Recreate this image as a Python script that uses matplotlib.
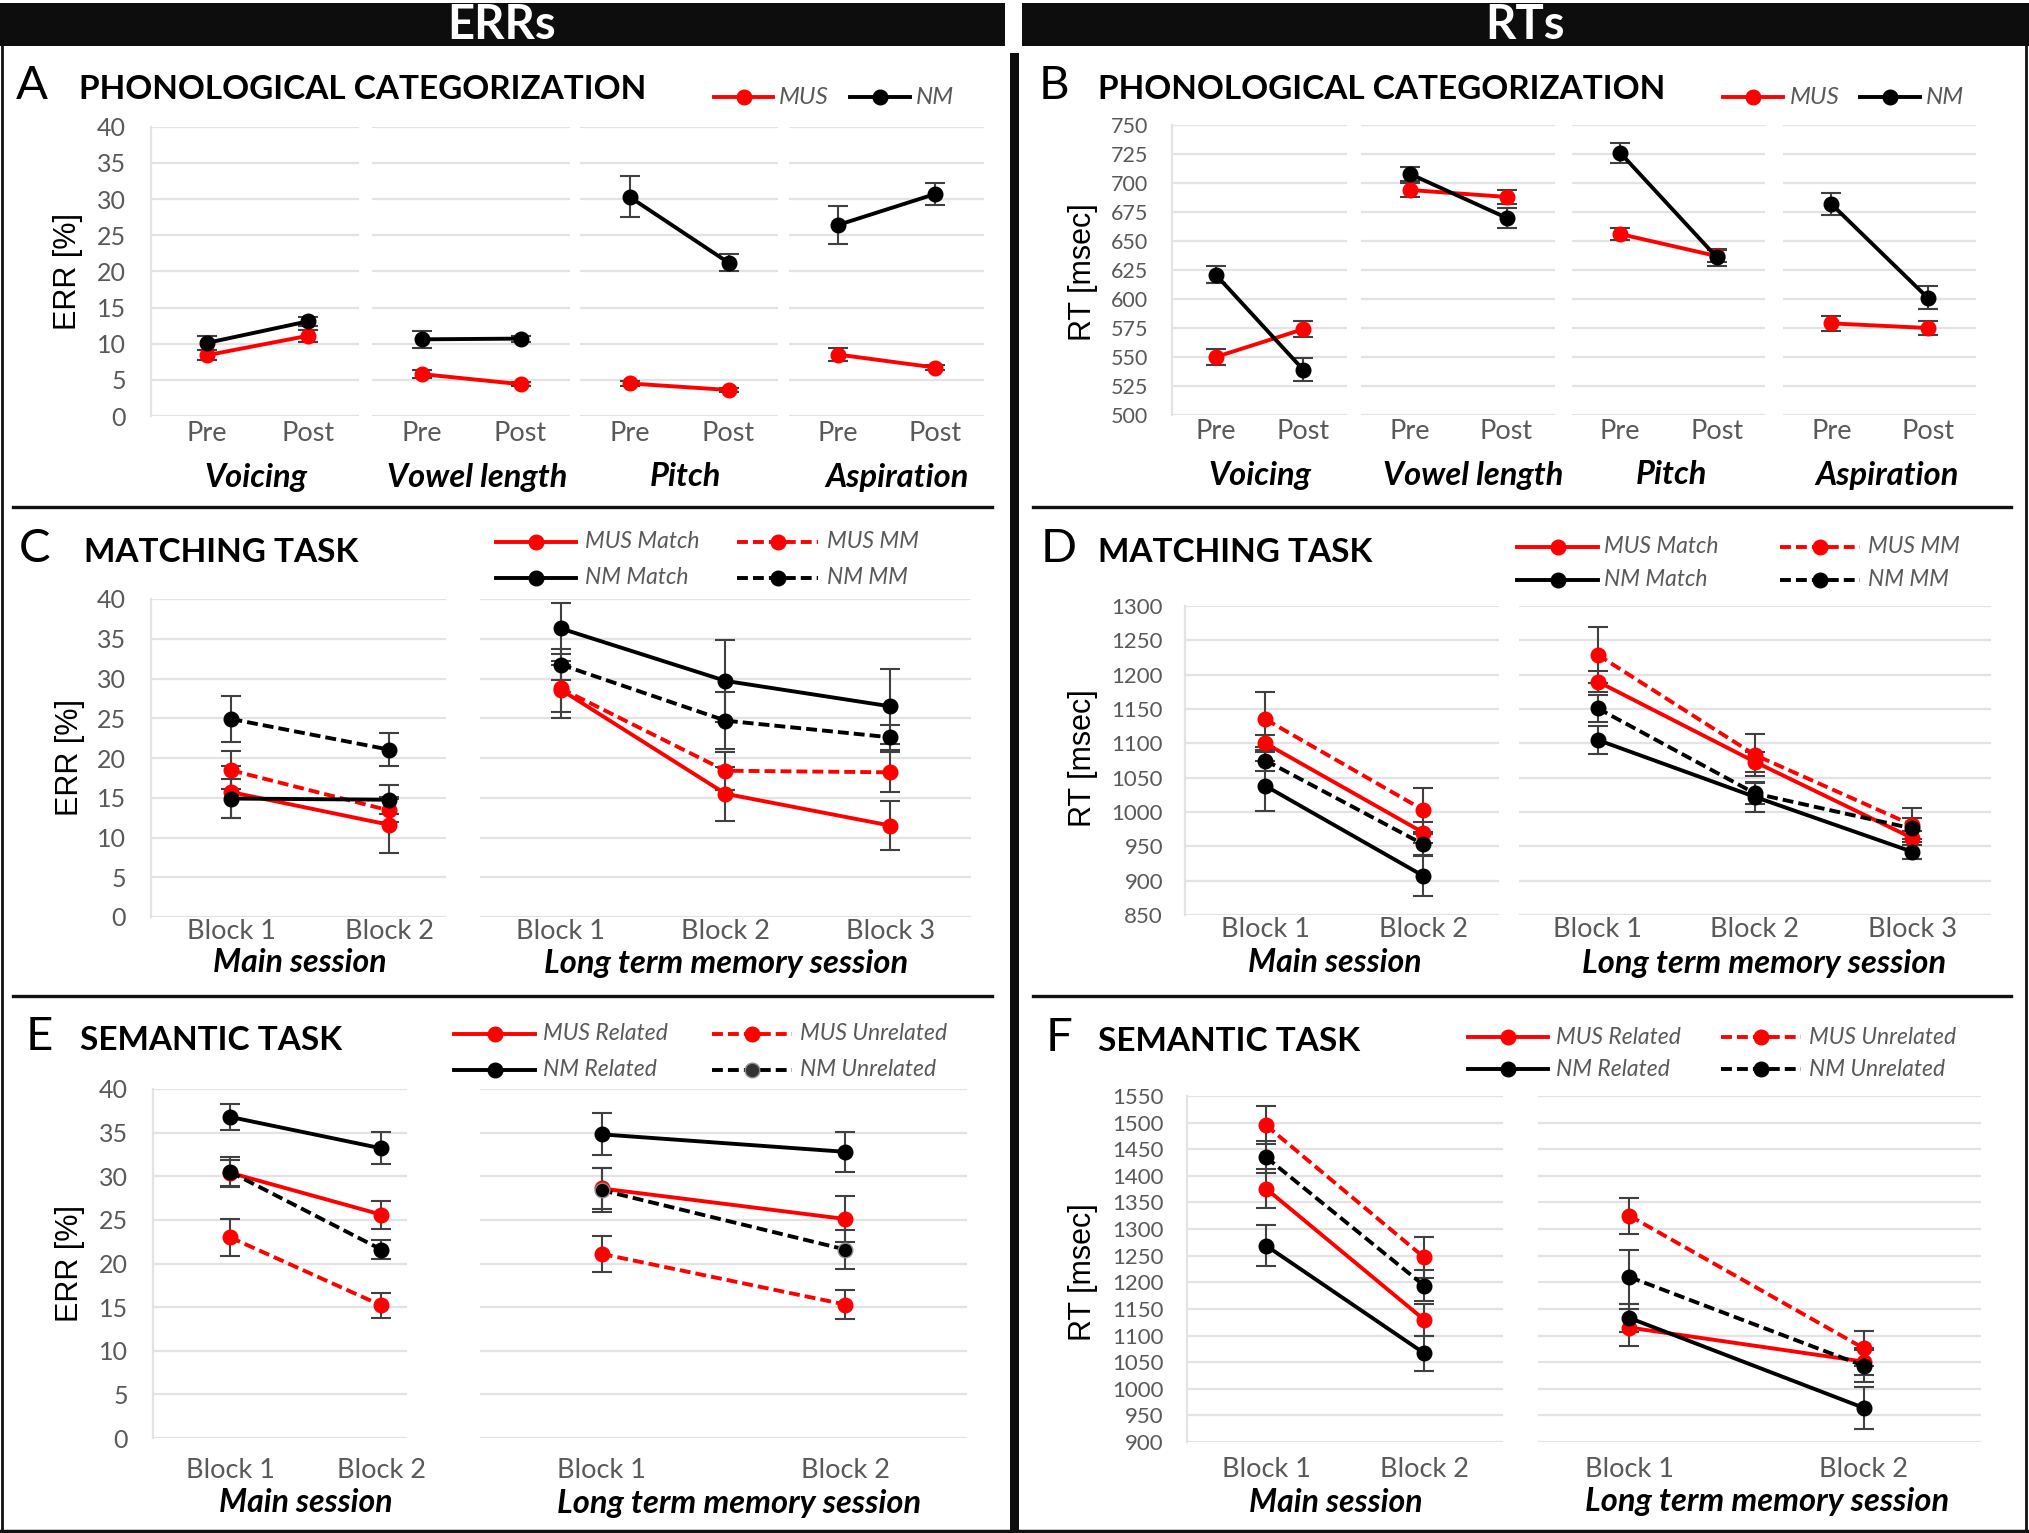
import numpy as np
import matplotlib
matplotlib.use("Agg")
import matplotlib.pyplot as plt
from matplotlib.patches import Rectangle
from matplotlib.lines import Line2D

# ---------------- DATA ----------------
phon_groups = ['Voicing', 'Vowel length', 'Pitch', 'Aspiration']
phon_ticks = ['Pre', 'Post']
# Panel A: ERR [%]  (per group: [Pre, Post])
A_mus = [[8.4, 11.1], [5.8, 4.4], [4.5, 3.6], [8.5, 6.7]]
A_mus_err = [[0.7, 0.8], [0.6, 0.3], [0.3, 0.3], [0.95, 0.4]]
A_nm = [[10.1, 13.1], [10.6, 10.7], [30.3, 21.2], [26.4, 30.7]]
A_nm_err = [[1.0, 0.6], [1.15, 0.4], [2.85, 1.2], [2.6, 1.5]]
# Panel B: RT [msec]
B_mus = [[550, 574], [694, 688], [656, 637], [579, 575]]
B_mus_err = [[7, 7], [6, 6], [5, 5], [6.5, 6]]
B_nm = [[621, 539], [708, 670], [726, 636], [682, 601]]
B_nm_err = [[7.5, 9.8], [6, 8.6], [8.6, 7.5], [9.3, 10]]

session_labels = ['Main session', 'Long term memory session']
main_ticks = ['Block 1', 'Block 2']
ltm3_ticks = ['Block 1', 'Block 2', 'Block 3']
ltm2_ticks = ['Block 1', 'Block 2']

match_series = ['MUS Match', 'MUS MM', 'NM Match', 'NM MM']
# Panel C: ERR [%]
C_main = {'MUS Match': [15.7, 11.6], 'MUS MM': [18.45, 13.4], 'NM Match': [14.9, 14.75], 'NM MM': [24.9, 21.05]}
C_main_err = {'MUS Match': [3.3, 3.5], 'MUS MM': [2.4, 1.5], 'NM Match': [2.4, 1.8], 'NM MM': [2.9, 2.05]}
C_ltm = {'MUS Match': [28.6, 15.5, 11.5], 'MUS MM': [28.75, 18.4, 18.2], 'NM Match': [36.3, 29.7, 26.5], 'NM MM': [31.75, 24.7, 22.6]}
C_ltm_err = {'MUS Match': [3.6, 3.4, 3.1], 'MUS MM': [3.0, 2.4, 2.5], 'NM Match': [3.25, 5.2, 4.7], 'NM MM': [1.9, 3.6, 1.6]}
# Panel D: RT [msec]
D_main = {'MUS Match': [1100, 970], 'MUS MM': [1135, 1003], 'NM Match': [1038, 907], 'NM MM': [1075, 953]}
D_main_err = {'MUS Match': [12, 15], 'MUS MM': [40, 32], 'NM Match': [37, 29], 'NM MM': [15, 15]}
D_ltm = {'MUS Match': [1190, 1073, 962], 'MUS MM': [1229, 1083, 981], 'NM Match': [1105, 1022, 942], 'NM MM': [1151, 1027, 976]}
D_ltm_err = {'MUS Match': [15, 15, 10], 'MUS MM': [41, 31, 25], 'NM Match': [20, 22, 10], 'NM MM': [20, 15, 15]}

sem_series = ['MUS Related', 'MUS Unrelated', 'NM Related', 'NM Unrelated']
# Panel E: ERR [%]
E_main = {'MUS Related': [30.4, 25.6], 'MUS Unrelated': [23.0, 15.2], 'NM Related': [36.8, 33.2], 'NM Unrelated': [30.5, 21.6]}
E_main_err = {'MUS Related': [1.5, 1.6], 'MUS Unrelated': [2.15, 1.4], 'NM Related': [1.5, 1.85], 'NM Unrelated': [1.75, 1.1]}
E_ltm = {'MUS Related': [28.6, 25.1], 'MUS Unrelated': [21.1, 15.3], 'NM Related': [34.8, 32.8], 'NM Unrelated': [28.4, 21.6]}
E_ltm_err = {'MUS Related': [2.3, 2.6], 'MUS Unrelated': [2.1, 1.7], 'NM Related': [2.4, 2.3], 'NM Unrelated': [2.5, 2.2]}
# Panel F: RT [msec]
F_main = {'MUS Related': [1376, 1130], 'MUS Unrelated': [1495, 1247], 'NM Related': [1269, 1067], 'NM Unrelated': [1435, 1194]}
F_main_err = {'MUS Related': [37, 30], 'MUS Unrelated': [36, 38], 'NM Related': [39, 33], 'NM Unrelated': [30, 30]}
F_ltm = {'MUS Related': [1115, 1051], 'MUS Unrelated': [1325, 1076], 'NM Related': [1133, 964], 'NM Unrelated': [1210, 1043]}
F_ltm_err = {'MUS Related': [35, 25], 'MUS Unrelated': [34, 33], 'NM Related': [27, 39], 'NM Unrelated': [51, 30]}

# ---------------- STYLE ----------------
W, H, DPI = 2029, 1533, 100
FONT = 'Lato'
RED, BLK = '#ff0000', '#000000'
GRID, TXT, EBC = '#e3e3e3', '#595959', '#404040'
PX = 72.0 / DPI  # points per pixel
LW, MS, DASH = 2.8, 10.5, (0, (2.8, 1.3))

fig = plt.figure(figsize=(W / DPI, H / DPI), dpi=DPI)
fig.patch.set_facecolor('white')


def fx(x):
    return x / W


def fy(y):
    return 1 - y / H


def series_style(name):
    color = RED if name.startswith('MUS') else BLK
    dashed = name.endswith('MM') or name.endswith('Unrelated')
    return color, dashed


def add_ax(x0, x1, y0, y1):
    return fig.add_axes([fx(x0), fy(y1), (x1 - x0) / W, (y1 - y0) / H])


def style_ax(ax, ylim, step, show_y, xlim, ticklabels, tick_fs, tick_center, ybottom, ypad, yfs):
    ax.set_ylim(*ylim)
    ax.set_yticks(np.arange(ylim[0], ylim[1] + step / 2, step))
    ax.set_xlim(*xlim)
    ax.set_xticks(range(len(ticklabels)))
    ax.set_xticklabels(ticklabels, fontsize=tick_fs, color=TXT, family=FONT)
    size_px = tick_fs / PX
    xpad = (tick_center - ybottom - 0.37 * size_px) * PX
    ax.tick_params(axis='both', length=0)
    ax.tick_params(axis='x', pad=xpad)
    ax.tick_params(axis='y', pad=ypad * PX, labelsize=yfs, labelcolor=TXT)
    for lab in ax.get_yticklabels():
        lab.set_family(FONT)
    if not show_y:
        ax.tick_params(axis='y', labelleft=False)
    ax.grid(axis='y', color=GRID, lw=1.6)
    ax.set_axisbelow(True)
    for s in ax.spines.values():
        s.set_visible(False)
    if show_y:
        ax.spines['left'].set_visible(True)
        ax.spines['left'].set_color(GRID)
        ax.spines['left'].set_linewidth(1.6)
    ax.set_facecolor('none')


def draw(ax, y, err, color, dashed, mec=None):
    ls = DASH if dashed else '-'
    x = np.arange(len(y))
    ax.errorbar(x, y, yerr=err, color=color, ls=ls, lw=LW, marker='o', ms=MS,
                mfc=color, mec=mec if mec else color, ecolor=EBC, elinewidth=1.5,
                capsize=7, capthick=1.5, zorder=3)


def legend_entry(x0, x1, xt, y, label, color, dashed, fs, mfc=None, mec=None):
    ls = DASH if dashed else '-'
    xm = (x0 + x1) / 2
    ln = Line2D([fx(x0), fx(xm), fx(x1)], [fy(y)] * 3, transform=fig.transFigure,
                color=color, ls=ls, lw=LW, marker='o', ms=MS, markevery=[1],
                mfc=mfc if mfc else color, mec=mec if mec else color)
    fig.add_artist(ln)
    fig.text(fx(xt), fy(y), label, fontsize=fs, style='italic', color=TXT,
             family=FONT, va='center', ha='left')


def title(letter, xl, text, xt, yb):
    fig.text(fx(xl), fy(yb), letter, fontsize=34, family=FONT, va='baseline', ha='left')
    fig.text(fx(xt), fy(yb), text, fontsize=24, fontweight='bold', family=FONT,
             va='baseline', ha='left')


def ylabel(x, y, text):
    fig.text(fx(x), fy(y), text, fontsize=22, family='Liberation Sans', rotation=90,
             va='center', ha='center')


def group_label(x, y, text, fs):
    fig.text(fx(x), fy(y), text, fontsize=fs, fontweight='bold', style='italic',
             family=FONT, va='center', ha='center')


# ---------------- FRAME ----------------
fig.add_artist(Rectangle((fx(0), fy(46)), fx(1005), 43 / H, transform=fig.transFigure,
                         facecolor='#0d0d0d', edgecolor='none'))
fig.add_artist(Rectangle((fx(1022), fy(46)), fx(2029 - 1022), 43 / H, transform=fig.transFigure,
                         facecolor='#0d0d0d', edgecolor='none'))
fig.text(fx(502), fy(25), 'ERRs', color='white', fontsize=34, fontweight='bold',
         family=FONT, ha='center', va='center')
fig.text(fx(1525), fy(25), 'RTs', color='white', fontsize=34, fontweight='bold',
         family=FONT, ha='center', va='center')
# middle vertical separator
fig.add_artist(Rectangle((fx(1010), fy(1533)), fx(9), (1533 - 53) / H,
                         transform=fig.transFigure, facecolor='#0d0d0d', edgecolor='none'))
# outer thin borders
for xs in (2, 2026):
    fig.add_artist(Line2D([fx(xs), fx(xs)], [fy(46), fy(1533)], transform=fig.transFigure,
                          color='#111111', lw=2.0))
fig.add_artist(Line2D([0, 1], [fy(1531), fy(1531)], transform=fig.transFigure,
                      color='#111111', lw=2.5))
# horizontal separators
for ysep in (507, 996):
    fig.add_artist(Line2D([fx(13), fx(992)], [fy(ysep), fy(ysep)], transform=fig.transFigure,
                          color='#111111', lw=2.4))
    fig.add_artist(Line2D([fx(1033), fx(2011)], [fy(ysep), fy(ysep)], transform=fig.transFigure,
                          color='#111111', lw=2.4))

# ---------------- PANEL A ----------------
title('A', 16, 'PHONOLOGICAL CATEGORIZATION', 79, 99)
legend_entry(714, 773, 779, 97, 'MUS', RED, False, 17.5)
legend_entry(850, 910, 916, 97, 'NM', BLK, False, 17.5)
ylabel(68, 272, 'ERR [%]')
A_x = [(151, 359), (372, 570), (580, 778), (789, 984)]
A_xlim = [(-0.55, 1.5), (-0.5, 1.5), (-0.5, 1.5), (-0.5, 1.5)]
A_gx = [256, 477, 685, 897]
for i, g in enumerate(phon_groups):
    ax = add_ax(A_x[i][0], A_x[i][1], 126.7, 416)
    style_ax(ax, (0, 40), 5, i == 0, A_xlim[i], phon_ticks, 19.5, 431, 416, 25, 18)
    draw(ax, A_mus[i], A_mus_err[i], RED, False)
    draw(ax, A_nm[i], A_nm_err[i], BLK, False)
    group_label(A_gx[i], 477, g, 23.5)

# ---------------- PANEL B ----------------
title('B', 1039, 'PHONOLOGICAL CATEGORIZATION', 1098, 99)
legend_entry(1723, 1783, 1790, 97, 'MUS', RED, False, 17.5)
legend_entry(1860, 1920, 1926, 97, 'NM', BLK, False, 17.5)
ylabel(1083, 272, 'RT [msec]')
B_x = [(1172, 1347), (1361, 1555), (1572, 1765), (1783, 1976)]
B_gx = [1260, 1473, 1671, 1887]
for i, g in enumerate(phon_groups):
    ax = add_ax(B_x[i][0], B_x[i][1], 125, 415)
    style_ax(ax, (500, 750), 25, i == 0, (-0.5, 1.5), phon_ticks, 19.5, 429, 415, 24, 15.5)
    draw(ax, B_mus[i], B_mus_err[i], RED, False)
    draw(ax, B_nm[i], B_nm_err[i], BLK, False)
    group_label(B_gx[i], 475, g, 23.5)


# ---------------- PANELS C-F ----------------
def session_panel(names, main, main_err, ltm, ltm_err, ylim, step, ytop, ybot,
                  main_x, ltm_x, main_xlim, ltm_xlim, ltm_ticks, tick_c, grp_y, grp_x, ypad, yfs,
                  grey_ltm=None):
    ax1 = add_ax(main_x[0], main_x[1], ytop, ybot)
    style_ax(ax1, ylim, step, True, main_xlim, main_ticks, 19.5, tick_c, ybot, ypad, yfs)
    ax2 = add_ax(ltm_x[0], ltm_x[1], ytop, ybot)
    style_ax(ax2, ylim, step, False, ltm_xlim, ltm_ticks, 19.5, tick_c, ybot, ypad, yfs)
    for n in names:
        c, d = series_style(n)
        draw(ax1, main[n], main_err[n], c, d)
        draw(ax2, ltm[n], ltm_err[n], c, d, mec='#8c8c8c' if n == grey_ltm else None)
    group_label(grp_x[0], grp_y, session_labels[0], 23)
    group_label(grp_x[1], grp_y, session_labels[1], 23.5)


def legend4(names, cols, rows, fs, grey=None):
    for k, n in enumerate(names):
        c, d = series_style(n)
        x0, x1, xt = cols[k % 2]
        y = rows[k // 2]
        if n == grey:
            legend_entry(x0, x1, xt, y, n, c, d, fs, mfc='#333333', mec='#8c8c8c')
        else:
            legend_entry(x0, x1, xt, y, n, c, d, fs)


# C
title('C', 19, 'MATCHING TASK', 84, 562)
legend4(match_series, [(496, 576, 585), (737, 818, 827)], [542, 578], 16.5)
ylabel(70, 758, 'ERR [%]')
session_panel(match_series, C_main, C_main_err, C_ltm, C_ltm_err, (0, 40), 5, 599, 917,
              (151, 446), (480, 971), (-0.51, 1.36), (-0.49, 2.49), ltm3_ticks, 929, 963,
              (300, 726), 25, 18)

# D
title('D', 1041, 'MATCHING TASK', 1098, 562)
legend4(match_series, [(1517, 1598, 1604), (1780, 1860, 1868)], [547, 580], 16.5)
ylabel(1083, 758, 'RT [msec]')
session_panel(match_series, D_main, D_main_err, D_ltm, D_ltm_err, (850, 1300), 50, 606, 915,
              (1185, 1499), (1519, 1991), (-0.51, 1.48), (-0.5, 2.5), ltm3_ticks, 927, 963,
              (1335, 1764), 22, 16)

# E
title('E', 26, 'SEMANTIC TASK', 80, 1050)
legend4(sem_series, [(454, 535, 543), (712, 792, 800)], [1034, 1070], 16.5, grey='NM Unrelated')
ylabel(70, 1264, 'ERR [%]')
session_panel(sem_series, E_main, E_main_err, E_ltm, E_ltm_err, (0, 40), 5, 1089, 1438,
              (153, 407), (480, 967), (-0.51, 1.17), (-0.5, 1.5), ltm2_ticks, 1468, 1503,
              (306, 739), 25, 18, grey_ltm='NM Unrelated')

# F
title('F', 1046, 'SEMANTIC TASK', 1098, 1051)
legend4(sem_series, [(1468, 1548, 1556), (1721, 1801, 1809)], [1037, 1069], 16.5)
ylabel(1083, 1272, 'RT [msec]')
session_panel(sem_series, F_main, F_main_err, F_ltm, F_ltm_err, (900, 1550), 50, 1096, 1442,
              (1187, 1503), (1538, 1981), (-0.5, 1.5), (-0.39, 1.5), ltm2_ticks, 1467, 1502,
              (1336, 1767), 23, 16)

fig.savefig('out.png', dpi=DPI, facecolor='white')
